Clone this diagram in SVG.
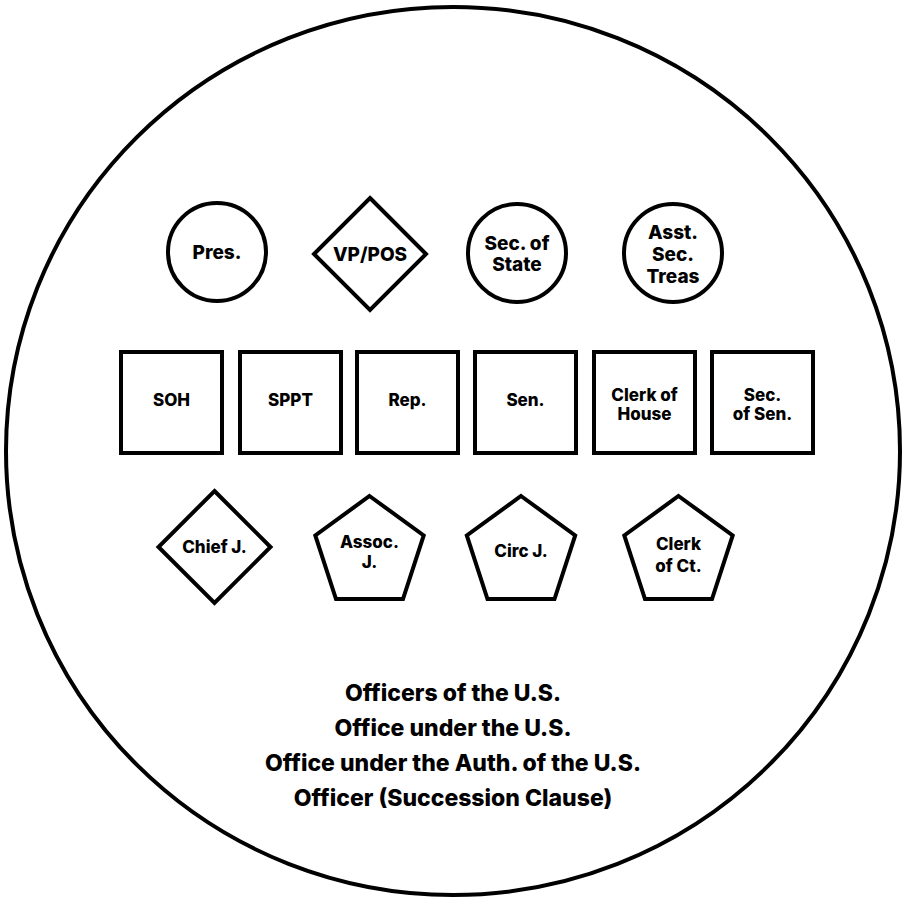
<svg xmlns="http://www.w3.org/2000/svg" width="904" height="898" viewBox="0 0 904 898">
  <style>
    .shape { fill: #fff; stroke: #000; stroke-width: 4; stroke-linejoin: miter; }
    .lbl { font-family: Inter, "Liberation Sans", sans-serif; font-weight: 800; fill: #000; text-anchor: middle; }
    .big { font-size: 19px; }
    .med { font-size: 17px; }
    .legend { font-size: 23px; }
  </style>
  <rect width="904" height="898" fill="#fff"/>
  <!-- outer boundary -->
  <ellipse cx="453" cy="451" rx="447" ry="444" fill="none" stroke="#000" stroke-width="4"/>

  <!-- top row -->
  <g id="pres">
    <circle class="shape" cx="217" cy="252" r="49"/>
    <text class="lbl big" x="217" y="259">Pres.</text>
  </g>
  <g id="vp-pos">
    <polygon class="shape" points="370,198 426,254 370,310 314,254"/>
    <text class="lbl big" x="370" y="261">VP/POS</text>
  </g>
  <g id="sec-state">
    <circle class="shape" cx="517" cy="253" r="49"/>
    <text class="lbl big" x="517" y="250">Sec. of</text>
    <text class="lbl big" x="517" y="271">State</text>
  </g>
  <g id="asst-sec-treas">
    <circle class="shape" cx="673" cy="253" r="49"/>
    <text class="lbl big" x="673" y="239">Asst.</text>
    <text class="lbl big" x="673" y="261">Sec.</text>
    <text class="lbl big" x="673" y="283">Treas</text>
  </g>

  <!-- middle row -->
  <g id="soh">
    <rect class="shape" x="121" y="352" width="101" height="101"/>
    <text class="lbl med" x="171.5" y="406">SOH</text>
  </g>
  <g id="sppt">
    <rect class="shape" x="240" y="352" width="101" height="101"/>
    <text class="lbl med" x="290.5" y="406">SPPT</text>
  </g>
  <g id="rep">
    <rect class="shape" x="357" y="352" width="101" height="101"/>
    <text class="lbl med" x="407.5" y="406">Rep.</text>
  </g>
  <g id="sen">
    <rect class="shape" x="475" y="352" width="101" height="101"/>
    <text class="lbl med" x="525.5" y="406">Sen.</text>
  </g>
  <g id="clerk-house">
    <rect class="shape" x="594" y="352" width="101" height="101"/>
    <text class="lbl med" x="644.5" y="401">Clerk of</text>
    <text class="lbl med" x="644.5" y="420">House</text>
  </g>
  <g id="sec-sen">
    <rect class="shape" x="712" y="352" width="101" height="101"/>
    <text class="lbl med" x="762.5" y="401">Sec.</text>
    <text class="lbl med" x="762.5" y="420">of Sen.</text>
  </g>

  <!-- bottom row -->
  <g id="chief-j">
    <polygon class="shape" points="214.5,491 270.5,547 214.5,603 158.5,547"/>
    <text class="lbl med" x="214.5" y="553">Chief J.</text>
  </g>
  <g id="assoc-j">
    <polygon class="shape" points="369.5,496 423.7,535.4 403,599.1 336,599.1 315.3,535.4"/>
    <text class="lbl med" x="369.5" y="548">Assoc.</text>
    <text class="lbl med" x="369.5" y="568">J.</text>
  </g>
  <g id="circ-j">
    <polygon class="shape" points="521,496 575.2,535.4 554.5,599.1 487.5,599.1 466.8,535.4"/>
    <text class="lbl med" x="521" y="557">Circ J.</text>
  </g>
  <g id="clerk-ct">
    <polygon class="shape" points="678.5,496 732.7,535.4 712,599.1 645,599.1 624.3,535.4"/>
    <text class="lbl med" x="678.5" y="550">Clerk</text>
    <text class="lbl med" x="678.5" y="572">of Ct.</text>
  </g>

  <!-- legend -->
  <g id="legend">
    <text class="lbl legend" x="453" y="701">Officers of the U.S.</text>
    <text class="lbl legend" x="453" y="736">Office under the U.S.</text>
    <text class="lbl legend" x="453" y="771">Office under the Auth. of the U.S.</text>
    <text class="lbl legend" x="453" y="806">Officer (Succession Clause)</text>
  </g>
</svg>
